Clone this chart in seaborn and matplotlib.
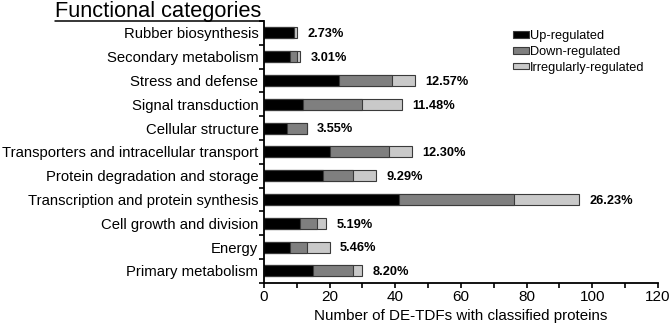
import numpy as np
import pandas as pd
import matplotlib
matplotlib.use('Agg')
import matplotlib.pyplot as plt
from matplotlib.lines import Line2D
from matplotlib.ticker import MultipleLocator, FixedLocator
import seaborn as sns

# data
categories = ['Rubber biosynthesis', 'Secondary metabolism', 'Stress and defense',
              'Signal transduction', 'Cellular structure',
              'Transporters and intracellular transport', 'Protein degradation and storage',
              'Transcription and protein synthesis', 'Cell growth and division',
              'Energy', 'Primary metabolism']
up_reg = [9, 8, 23, 12, 7, 20, 18, 41, 11, 8, 15]
down_reg = [0, 2, 16, 18, 6, 18, 9, 35, 5, 5, 12]
irreg = [1, 1, 7, 12, 0, 7, 7, 20, 3, 7, 3]
pct_labels = ['2.73%', '3.01%', '12.57%', '11.48%', '3.55%', '12.30%',
              '9.29%', '26.23%', '5.19%', '5.46%', '8.20%']

sns.set_style('ticks')
plt.rcParams['font.family'] = ['Liberation Sans', 'DejaVu Sans']
for k in ['text.color', 'axes.labelcolor', 'xtick.color', 'ytick.color', 'axes.edgecolor']:
    plt.rcParams[k] = 'black'

df = pd.DataFrame({'cat': categories, 'up': up_reg, 'down': down_reg, 'irr': irreg})
df['c2'] = df['up'] + df['down']
df['c3'] = df['c2'] + df['irr']

fig = plt.figure(figsize=(6.71, 3.28), dpi=100)
ax = fig.add_axes([0.3934, 0.138, 0.5872, 0.798])

edge = '#3a3a3a'
bw = 0.46
# stacked by overlaying cumulative totals
sns.barplot(data=df, x='c3', y='cat', orient='h', color='#c9c9c9', width=bw,
            edgecolor=edge, linewidth=0.8, label='Irregularly-regulated', ax=ax)
sns.barplot(data=df, x='c2', y='cat', orient='h', color='#7f7f7f', width=bw,
            edgecolor=edge, linewidth=0.8, label='Down-regulated', ax=ax)
sns.barplot(data=df, x='up', y='cat', orient='h', color='#000000', width=bw,
            edgecolor=edge, linewidth=0.8, label='Up-regulated', ax=ax)

for i, (tot, lab) in enumerate(zip(df['c3'], pct_labels)):
    ax.annotate(lab, xy=(tot, i), xytext=(7.5, -1), textcoords='offset points',
                ha='left', va='center', fontsize=9.2, fontweight='bold')

ax.set_xlim(0, 120)
ax.set_ylim(len(categories) - 0.5, -0.5)
ax.xaxis.set_major_locator(MultipleLocator(20))
ax.xaxis.set_minor_locator(MultipleLocator(10))
ax.yaxis.set_minor_locator(FixedLocator(np.arange(-0.5, len(categories), 1)))
ax.tick_params(axis='y', which='major', length=0, pad=4, labelsize=10.75)
ax.tick_params(axis='y', which='minor', length=3.5, width=1.2)
ax.tick_params(axis='x', which='both', length=3.5, width=1.2, labelsize=11, pad=2)
ax.set_xlabel('Number of DE-TDFs with classified proteins', fontsize=10.9, labelpad=3)
ax.set_ylabel('')
for s in ['left', 'bottom']:
    ax.spines[s].set_linewidth(1.3)
sns.despine(ax=ax)

h, l = ax.get_legend_handles_labels()
ax.legend(h[::-1], l[::-1], loc='upper left', bbox_to_anchor=(0.61, 1.0),
          frameon=False, fontsize=9.2, handlelength=1.2, handleheight=0.45,
          handletextpad=0.1, labelspacing=0.3, borderaxespad=0.3)

fig.text(55 / 671, 1 - 17 / 328, 'Functional categories', fontsize=15.7,
         ha='left', va='baseline')
fig.add_artist(Line2D([55 / 671, 263 / 671], [1 - 20.5 / 328, 1 - 20.5 / 328],
                      color='black', linewidth=1.1, transform=fig.transFigure))

fig.savefig('out.png', dpi=100)
